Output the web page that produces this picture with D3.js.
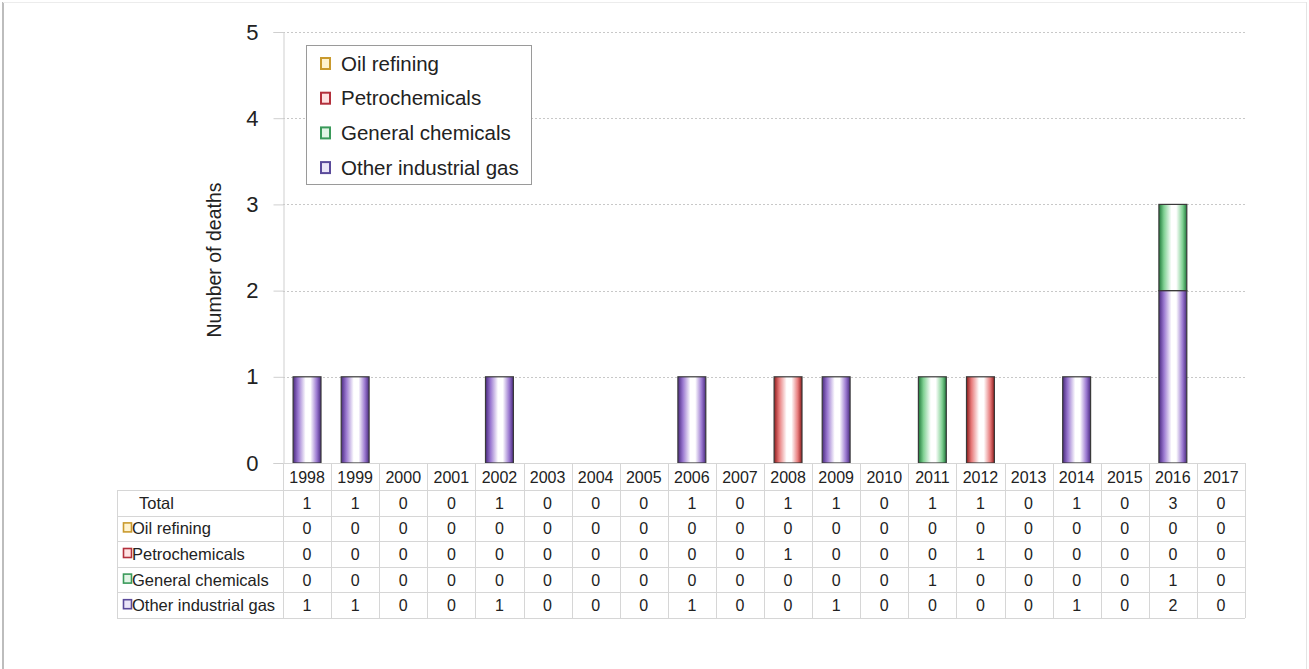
<!DOCTYPE html>
<html>
<head>
<meta charset="utf-8">
<script src="https://cdn.jsdelivr.net/npm/d3@7"></script>
<style>
  body { margin: 0; background: #fff; }
  svg { font-family: Arial, "Liberation Sans", sans-serif; }
</style>
</head>
<body>
<svg id="chart"></svg>
<script>
// data
const years = ["1998","1999","2000","2001","2002","2003","2004","2005","2006","2007",
               "2008","2009","2010","2011","2012","2013","2014","2015","2016","2017"];
const oilRefining      = [0,0,0,0,0,0,0,0,0,0,0,0,0,0,0,0,0,0,0,0];
const petrochemicals   = [0,0,0,0,0,0,0,0,0,0,1,0,0,0,1,0,0,0,0,0];
const generalChemicals = [0,0,0,0,0,0,0,0,0,0,0,0,0,1,0,0,0,0,1,0];
const otherGas         = [1,1,0,0,1,0,0,0,1,0,0,1,0,0,0,0,1,0,2,0];
const yTicks = [0,1,2,3,4,5];

const series = [
  {key: "Oil refining", values: oilRefining, dark: "#b8871c", mid: "#f0cf70", mark: "#c99a2e", fill: "#fff3cf"},
  {key: "Petrochemicals", values: petrochemicals, dark: "#8e1b1b", mid: "#e77b7b", mark: "#b3303c", fill: "#ffe3e3"},
  {key: "General chemicals", values: generalChemicals, dark: "#1f7a3a", mid: "#7fd092", mark: "#3a9a5a", fill: "#e2f5e6"},
  {key: "Other industrial gas", values: otherGas, dark: "#4a2a80", mid: "#9a78d0", mark: "#5a4a9a", fill: "#ebe6f8"}
];

const width = 1309, height = 669;
const plot = {left: 283, right: 1245, top: 32, bottom: 463};

const svg = d3.select("#chart").attr("width", width).attr("height", height);

// faint frame around the whole picture
svg.append("line").attr("x1", 3).attr("x2", 3).attr("y1", 2).attr("y2", height)
  .attr("stroke", "#bdbdbd").attr("stroke-width", 2);
svg.append("line").attr("x1", 3).attr("x2", 1306).attr("y1", 2.5).attr("y2", 2.5)
  .attr("stroke", "#ececec");
svg.append("line").attr("x1", 1306.5).attr("x2", 1306.5).attr("y1", 2).attr("y2", height)
  .attr("stroke", "#e4e4e4");

const x = d3.scaleBand().domain(years).range([plot.left, plot.right])
  .paddingInner(0.42).paddingOuter(0.21);
const y = d3.scaleLinear().domain([0, 5]).range([plot.bottom, plot.top]);

// gradients for the bars (dark edges, white centre)
const defs = svg.append("defs");
series.forEach((s, i) => {
  const g = defs.append("linearGradient").attr("id", "grad" + i)
    .attr("x1", "0%").attr("x2", "100%").attr("y1", "0%").attr("y2", "0%");
  g.append("stop").attr("offset", "0%").attr("stop-color", s.dark);
  g.append("stop").attr("offset", "18%").attr("stop-color", s.mid);
  g.append("stop").attr("offset", "45%").attr("stop-color", "#ffffff");
  g.append("stop").attr("offset", "62%").attr("stop-color", "#ffffff");
  g.append("stop").attr("offset", "85%").attr("stop-color", s.mid);
  g.append("stop").attr("offset", "100%").attr("stop-color", s.dark);
});

// grid lines
svg.append("g").selectAll("line").data(yTicks.filter(d => d > 0)).join("line")
  .attr("x1", plot.left).attr("x2", plot.right)
  .attr("y1", d => Math.round(y(d)) + 0.5).attr("y2", d => Math.round(y(d)) + 0.5)
  .attr("stroke", "#c8c8c8").attr("stroke-dasharray", "2 2");

// y axis
const yAxis = svg.append("g").attr("transform", `translate(${plot.left + 0.5},0)`)
  .call(d3.axisLeft(y).tickValues(yTicks).tickSize(10).tickPadding(15).tickFormat(d3.format("d")));
yAxis.select(".domain").attr("stroke", "#cfcfcf");
yAxis.selectAll(".tick line").attr("stroke", "#cfcfcf");
yAxis.selectAll(".tick text").attr("font-size", 22).attr("fill", "#222")
  .attr("font-family", "Arial, 'Liberation Sans', sans-serif");

svg.append("text")
  .attr("transform", "translate(221,260) rotate(-90)")
  .attr("text-anchor", "middle").attr("font-size", 19.5).attr("fill", "#222")
  .text("Number of deaths");

// stacked bars: other gas at the bottom
const rows = years.map((yr, i) => {
  const r = {year: yr};
  series.forEach(s => r[s.key] = s.values[i]);
  return r;
});
const stackOrder = [3, 2, 1, 0];
const stack = d3.stack().keys(stackOrder.map(i => series[i].key))(rows);

stack.forEach((layer, li) => {
  const si = stackOrder[li];
  svg.append("g").selectAll("rect").data(layer.filter(d => d[1] > d[0])).join("rect")
    .attr("x", d => x(d.data.year))
    .attr("width", x.bandwidth())
    .attr("y", d => y(d[1]))
    .attr("height", d => y(d[0]) - y(d[1]))
    .attr("fill", `url(#grad${si})`)
    .attr("stroke", "#3a3a3a").attr("stroke-width", 1.2);
});

// data table
const tableLeft = 117;
const headTop = plot.bottom, headH = 27;
const rowH = 25.6;
const tableRows = [{label: "Total", values: years.map((_, i) => d3.sum(series, s => s.values[i]))}]
  .concat(series.map(s => ({label: s.key, values: s.values, s: s})));
const tableBottom = headTop + headH + rowH * tableRows.length;
const grid = "#d6d6d6";
const tg = svg.append("g");

// vertical lines
years.forEach(yr => {
  const xx = Math.round(x(yr) - x.step() * x.paddingOuter()) + 0.5;
  tg.append("line").attr("x1", xx).attr("x2", xx).attr("y1", headTop).attr("y2", tableBottom).attr("stroke", grid);
});
tg.append("line").attr("x1", plot.right + 0.5).attr("x2", plot.right + 0.5)
  .attr("y1", headTop).attr("y2", tableBottom).attr("stroke", grid);
tg.append("line").attr("x1", tableLeft + 0.5).attr("x2", tableLeft + 0.5)
  .attr("y1", headTop + headH).attr("y2", tableBottom).attr("stroke", grid);
// horizontal lines
tg.append("line").attr("x1", plot.left).attr("x2", plot.right)
  .attr("y1", headTop + 0.5).attr("y2", headTop + 0.5).attr("stroke", grid);
d3.range(tableRows.length + 1).forEach(k => {
  const yy = Math.round(headTop + headH + k * rowH) + 0.5;
  tg.append("line").attr("x1", tableLeft).attr("x2", plot.right)
    .attr("y1", yy).attr("y2", yy).attr("stroke", grid);
});

// year labels
tg.selectAll("text.year").data(years).join("text").attr("class", "year")
  .attr("x", d => x(d) + x.bandwidth() / 2).attr("y", headTop + headH / 2 + 6)
  .attr("text-anchor", "middle").attr("font-size", 16).attr("fill", "#222").text(d => d);

tableRows.forEach((r, k) => {
  const cy = headTop + headH + k * rowH + rowH / 2;
  if (r.s) {
    tg.append("rect").attr("x", tableLeft + 6.5).attr("y", cy - 5.5).attr("width", 8).attr("height", 9)
      .attr("fill", r.s.fill).attr("stroke", r.s.mark).attr("stroke-width", 1.6);
    tg.append("text").attr("x", tableLeft + 15).attr("y", cy + 6)
      .attr("font-size", 16.5).attr("fill", "#222").text(r.label);
  } else {
    tg.append("text").attr("x", tableLeft + 22).attr("y", cy + 6)
      .attr("font-size", 16.5).attr("fill", "#222").text(r.label);
  }
  tg.append("g").selectAll("text").data(r.values).join("text")
    .attr("x", (d, i) => x(years[i]) + x.bandwidth() / 2).attr("y", cy + 6)
    .attr("text-anchor", "middle").attr("font-size", 16).attr("fill", "#222").text(d => d);
});

// legend
const lg = svg.append("g").attr("transform", "translate(306,45)");
lg.append("rect").attr("x", 0.5).attr("y", 0.5).attr("width", 225).attr("height", 139)
  .attr("fill", "#fff").attr("stroke", "#9a9a9a");
series.forEach((s, i) => {
  const cy = 18 + i * 34.7;
  lg.append("rect").attr("x", 15).attr("y", cy - 5).attr("width", 9).attr("height", 11)
    .attr("fill", s.fill).attr("stroke", s.mark).attr("stroke-width", 2);
  lg.append("text").attr("x", 35).attr("y", cy + 7.5)
    .attr("font-size", 20.5).attr("fill", "#222").text(s.key);
});
</script>
</body>
</html>
